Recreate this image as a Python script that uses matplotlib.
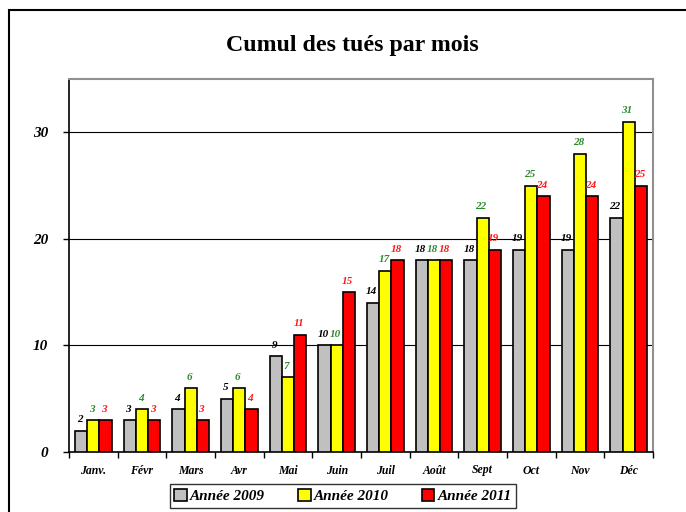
import numpy as np
import matplotlib
matplotlib.use("Agg")
import matplotlib.pyplot as plt
from matplotlib.patches import Rectangle

mois = ['Janv.', 'Févr', 'Mars', 'Avr', 'Mai', 'Juin', 'Juil', 'Août', 'Sept', 'Oct', 'Nov', 'Déc']
annee_2009 = [2, 3, 4, 5, 9, 10, 14, 18, 18, 19, 19, 22]
annee_2010 = [3, 4, 6, 6, 7, 10, 17, 18, 22, 25, 28, 31]
annee_2011 = [3, 3, 3, 4, 11, 15, 18, 18, 19, 24, 24, 25]
series = [('Année 2009', annee_2009, '#c0c0c0', 'black'),
          ('Année 2010', annee_2010, '#ffff00', '#2e8b2e'),
          ('Année 2011', annee_2011, '#ff0000', '#ff1a1a')]
yticks = [0, 10, 20, 30]

serif = 'Liberation Serif'
fig = plt.figure(figsize=(6.86, 5.12), dpi=100)
ax = fig.add_axes([69/686, 60/512, (653-69)/686, (452-79)/512])

# outer chart frame
fig.patches.append(Rectangle((8.5/686, -0.1), 1.2, 1 - 9.5/512 + 0.1, transform=fig.transFigure,
                             fill=False, edgecolor='black', linewidth=1.5, clip_on=False))

x = np.arange(len(mois))
w = 0.25
for i, (name, vals, col, lcol) in enumerate(series):
    pos = x + (i - 1) * w
    ax.bar(pos, vals, width=w, color=col, edgecolor='black', linewidth=1.2, label=name, zorder=3)
    for p, v in zip(pos, vals):
        ax.text(p - 0.03, v + 0.6, str(v), ha='center', va='bottom', color=lcol,
                fontsize=8, fontfamily=serif, fontweight='bold', fontstyle='italic')

ax.set_xlim(-0.5, len(mois) - 0.5)
ax.set_ylim(0, 35)
ax.set_yticks(yticks)
ax.set_yticklabels([str(t) for t in yticks], fontsize=11, fontfamily=serif,
                   fontweight='bold', fontstyle='italic')
ax.tick_params(axis='y', length=4, width=1, pad=11)
for t in yticks[1:]:
    ax.axhline(t, color='black', linewidth=0.8, zorder=1)

ax.set_xticks(np.arange(len(mois) + 1) - 0.5, minor=False)
ax.set_xticklabels([])
ax.set_xticks(x, minor=True)
ax.set_xticklabels(mois, minor=True, fontsize=8.5, fontfamily=serif,
                   fontweight='bold', fontstyle='italic')
ax.tick_params(axis='x', which='major', length=4, width=1)
ax.tick_params(axis='x', which='minor', length=0, pad=9)

for s in ['left', 'bottom']:
    ax.spines[s].set_color('black')
    ax.spines[s].set_linewidth(1.2)
for s in ['top', 'right']:
    ax.spines[s].set_color('#909090')
    ax.spines[s].set_linewidth(1.5)

fig.text(352/686, 1 - 46/512, 'Cumul des tués par mois', ha='center', va='center',
         fontsize=17.2, fontfamily=serif, fontweight='bold')

leg = fig.legend(loc='center', bbox_to_anchor=(343/686, 1 - 496/512), ncol=3,
                 prop={'family': serif, 'weight': 'bold', 'style': 'italic', 'size': 11},
                 frameon=True, fancybox=False, edgecolor='black', handlelength=0.8,
                 handleheight=0.8, handletextpad=0.2, columnspacing=2.2, borderpad=0.3)
leg.get_frame().set_linewidth(1.0)

fig.savefig('out.png', dpi=100)
